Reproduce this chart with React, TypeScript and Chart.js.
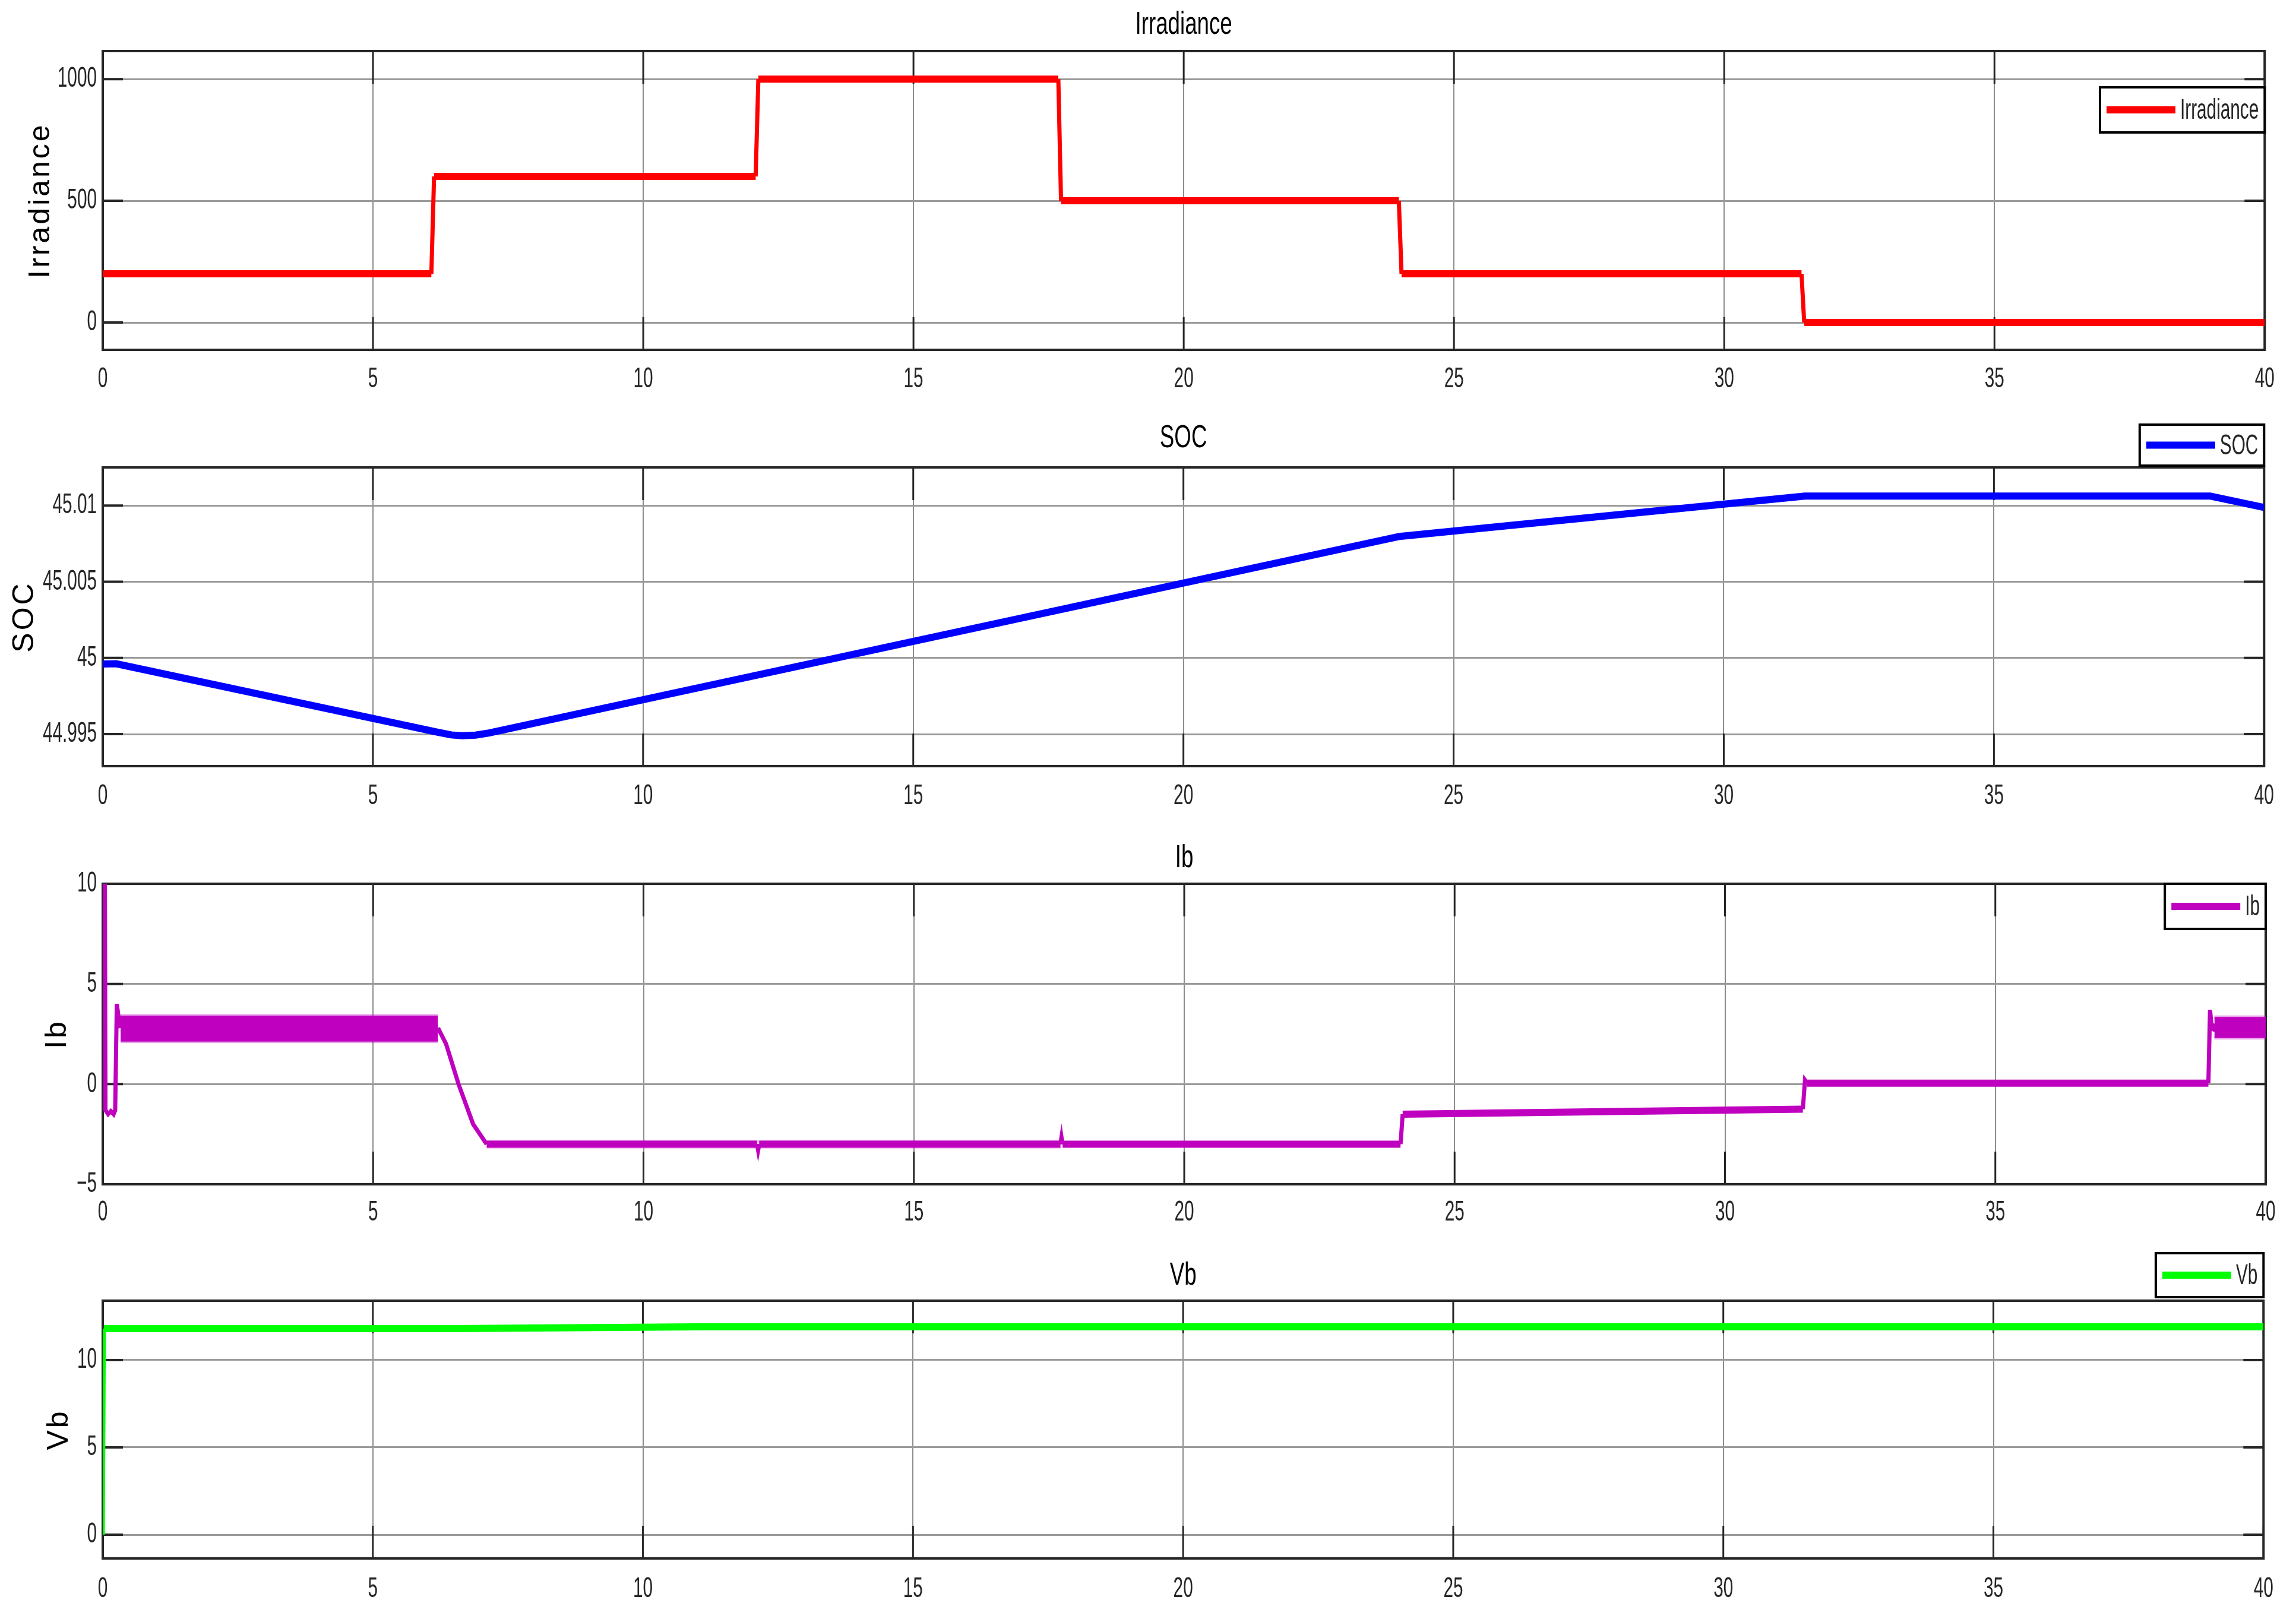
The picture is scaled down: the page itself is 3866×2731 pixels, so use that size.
import React, { useEffect, useRef } from "react";
import { Chart, registerables } from "chart.js";

Chart.register(...registerables);

// "CondMark" is a marker family name: text drawn with it is condensed horizontally
const NARROW = '"Liberation Sans", Arial, CondMark, sans-serif';
const WIDE = '"Liberation Sans", Arial, sans-serif';

// ---------------- data ----------------
const timeTicks = [0, 5, 10, 15, 20, 25, 30, 35, 40];
const timeTickLabels = ["0", "5", "10", "15", "20", "25", "30", "35", "40"];

// Irradiance (W/m2) vs time (s)
const irrTime = [0, 6.08, 6.13, 12.08, 12.13, 17.68, 17.73, 23.98, 24.03, 31.43, 31.48, 40];
const irrValue = [200, 200, 600, 600, 1000, 1000, 500, 500, 200, 200, 0, 0];
const irrTicks = [0, 500, 1000];
const irrTickLabels = ["0", "500", "1000"];

// SOC (%)
const socTime = [0, 0.25, 6.2, 6.45, 6.65, 6.9, 7.15, 24, 31.5, 39, 40];
const socValue = [44.9996, 44.99962, 44.99513, 44.99495, 44.9949, 44.99494, 44.99508, 45.00797, 45.01062, 45.01062, 45.00987];
const socTicks = [44.995, 45, 45.005, 45.01];
const socTickLabels = ["44.995", "45", "45.005", "45.01"];

// Battery current Ib (A)
const ibTime = [0, 0.04, 0.05, 0.1, 0.15, 0.2, 0.23, 0.26, 0.29, 0.33, 6.2, 6.35, 6.58, 6.85, 7.1, 12.1, 12.12, 12.14, 17.71, 17.73, 17.75, 24.0, 24.04, 31.44, 31.48, 31.52, 38.94, 38.97, 39.0, 39.05, 40];
const ibValue = [10, 10, -1.3, -1.5, -1.35, -1.5, -1.3, 4.0, 3.4, 2.8, 2.8, 2.0, 0, -2.0, -3.0, -3.0, -3.3, -3.0, -3.0, -2.65, -3.0, -3.0, -1.5, -1.25, 0.2, 0.05, 0.05, 3.7, 2.9, 2.8, 2.8];
// ripple envelopes of Ib
const ibRippleTime1 = [0.33, 6.2];
const ibRippleHigh1 = [3.42, 3.42];
const ibRippleLow1 = [2.12, 2.12];
const ibRippleTime2 = [7.1, 17.73];
const ibRippleHigh2 = [-2.78, -2.78];
const ibRippleLow2 = [-3.22, -3.22];
const ibRippleTime3 = [39.05, 40];
const ibRippleHigh3 = [3.35, 3.35];
const ibRippleLow3 = [2.3, 2.3];
const ibTicks = [-5, 0, 5, 10];
const ibTickLabels = ["\u22125", "0", "5", "10"];

// Battery voltage Vb (V)
const vbTime = [0, 0.02, 6.5, 11, 40];
const vbValue = [0, 11.8, 11.8, 11.9, 11.9];
const vbTicks = [0, 5, 10];
const vbTickLabels = ["0", "5", "10"];

// ---------------- styling ----------------
const W = 3866;
const H = 2731;
const PLOT_LEFT = 173;
const PLOT_RIGHT = 3815;
const RED = "#ff0000";
const BLUE = "#0000ff";
const MAGENTA = "#bf00bf";
const FRINGE = "rgba(191,0,191,0.35)";
const GREEN = "#00ff00";

const TICK_FONT = 48;
const TITLE_FONT = 54;
const YLABEL_FONT = 50;
const LEGEND_FONT = 48;
const TEXT_K = 0.62;
const TITLE_K = 0.68;

const pts = (t: number[], v: number[]) => t.map((x, i) => ({ x, y: v[i] }));

const segWidth = (thick: number, thin: number) => ({
  borderWidth: (ctx: any) =>
    Math.abs(ctx.p1.x - ctx.p0.x) < Math.abs(ctx.p1.y - ctx.p0.y) ? thin : thick,
});

const lineDs = (label: string, data: any[], color: string) => ({
  label,
  data,
  borderColor: color,
  backgroundColor: color,
  borderWidth: 12,
  segment: segWidth(12, 7),
  pointRadius: 0,
  tension: 0,
  fill: false,
});

const ribbon = (t: number[], hi: number[], lo: number[], fillColor: string, edge: string, edgeW: number) => [
  { label: "_hi", data: pts(t, hi), borderColor: edge, borderWidth: edgeW, pointRadius: 0, fill: false },
  { label: "_lo", data: pts(t, lo), borderColor: edge, borderWidth: edgeW, pointRadius: 0, fill: "-1", backgroundColor: fillColor },
];

type Panel = {
  key: string;
  top: number;
  height: number;
  title: string;
  yLabel: string;
  titleY: number;
  plotTop: number;
  plotBottom: number;
  xLabelY: number;
  yLabelX: number;
  yMin: number;
  yMax: number;
  yTicks: number[];
  yTickLabels: string[];
  legend: { label: string; color: string; offsetTop: number; height: number };
  datasets: () => any[];
};

const panels: Panel[] = [
  {
    key: "irr", top: 0, height: 700, title: "Irradiance", yLabel: "Irradiance",
    titleY: 42, plotTop: 86, plotBottom: 589, xLabelY: 639, yLabelX: 69,
    yMin: -112, yMax: 1115, yTicks: irrTicks, yTickLabels: irrTickLabels,
    legend: { label: "Irradiance", color: RED, offsetTop: 61, height: 76 },
    datasets: () => [lineDs("Irradiance", pts(irrTime, irrValue), RED)],
  },
  {
    key: "soc", top: 700, height: 700, title: "SOC", yLabel: "SOC",
    titleY: 38, plotTop: 87, plotBottom: 590, xLabelY: 641, yLabelX: 42,
    yMin: 44.9929, yMax: 45.0125, yTicks: socTicks, yTickLabels: socTickLabels,
    legend: { label: "SOC", color: BLUE, offsetTop: -72, height: 69 },
    datasets: () => [lineDs("SOC", pts(socTime, socValue), BLUE)],
  },
  {
    key: "ib", top: 1400, height: 700, title: "Ib", yLabel: "Ib",
    titleY: 45, plotTop: 88, plotBottom: 594, xLabelY: 642, yLabelX: 97,
    yMin: -5, yMax: 10, yTicks: ibTicks, yTickLabels: ibTickLabels,
    legend: { label: "Ib", color: MAGENTA, offsetTop: 0, height: 76 },
    datasets: () => [
      lineDs("Ib", pts(ibTime, ibValue), MAGENTA),
      ...ribbon(ibRippleTime1, ibRippleHigh1, ibRippleLow1, MAGENTA, FRINGE, 5),
      ...ribbon(ibRippleTime2, ibRippleHigh2, ibRippleLow2, "rgba(191,0,191,0.22)", "rgba(0,0,0,0)", 0),
      ...ribbon(ibRippleTime3, ibRippleHigh3, ibRippleLow3, MAGENTA, FRINGE, 5),
    ],
  },
  {
    key: "vb", top: 2100, height: 631, title: "Vb", yLabel: "Vb",
    titleY: 48, plotTop: 90, plotBottom: 524, xLabelY: 576, yLabelX: 100,
    yMin: -1.36, yMax: 13.4, yTicks: vbTicks, yTickLabels: vbTickLabels,
    legend: { label: "Vb", color: GREEN, offsetTop: -80, height: 74 },
    datasets: () => [lineDs("Vb", pts(vbTime, vbValue), GREEN)],
  },
];

const labelFor = (values: number[], labels: string[], v: number) => {
  const i = values.findIndex((x) => Math.abs(x - v) < 1e-9);
  return i >= 0 ? labels[i] : "";
};

// Condense the narrow text horizontally (MATLAB export look), space out the y labels.
const textStylePlugin = {
  id: "textStyle",
  beforeInit(chart: any) {
    const ctx: any = chart.ctx;
    if (ctx.__textPatched) return;
    const orig = ctx.fillText;
    ctx.fillText = function (text: any, x: number, y: number, maxWidth?: number) {
      const f: string = this.font || "";
      if (f.indexOf("CondMark") >= 0) {
        const m = /(\d+(?:\.\d+)?)px/.exec(f);
        const size = m ? parseFloat(m[1]) : 0;
        const k = size === TITLE_FONT ? TITLE_K : TEXT_K;
        let w = this.measureText(String(text)).width * k;
        if (maxWidth !== undefined && maxWidth !== null) w = Math.min(w, maxWidth);
        if (w <= 0) return;
        return orig.call(this, text, x, y, w);
      }
      const prev = this.letterSpacing;
      this.letterSpacing = "4px";
      const r = maxWidth !== undefined && maxWidth !== null ? orig.call(this, text, x, y, maxWidth) : orig.call(this, text, x, y);
      this.letterSpacing = prev;
      return r;
    };
    ctx.__textPatched = true;
  },
};

const framePlugin = {
  id: "matlabFrame",
  beforeDatasetsDraw(chart: any) {
    const { ctx, chartArea: a, scales } = chart;
    ctx.save();
    ctx.strokeStyle = "#262626";
    ctx.lineCap = "butt";
    ctx.lineWidth = 3;
    for (const t of scales.x.ticks) {
      const px = scales.x.getPixelForValue(t.value);
      ctx.beginPath();
      ctx.moveTo(px, a.bottom);
      ctx.lineTo(px, a.bottom - 55);
      ctx.moveTo(px, a.top);
      ctx.lineTo(px, a.top + 55);
      ctx.stroke();
    }
    ctx.lineWidth = 4;
    for (const t of scales.y.ticks) {
      const py = scales.y.getPixelForValue(t.value);
      ctx.beginPath();
      ctx.moveTo(a.left, py);
      ctx.lineTo(a.left + 34, py);
      ctx.moveTo(a.right, py);
      ctx.lineTo(a.right - 34, py);
      ctx.stroke();
    }
    ctx.lineWidth = 4;
    ctx.strokeRect(a.left, a.top, a.right - a.left, a.bottom - a.top);
    ctx.restore();
  },
};

const makeLegendPlugin = (spec: Panel["legend"]) => ({
  id: "boxLegend",
  afterDraw(chart: any) {
    const { ctx, chartArea: a } = chart;
    ctx.save();
    ctx.font = `${LEGEND_FONT}px ${NARROW}`;
    const tw = ctx.measureText(spec.label).width * TEXT_K;
    const w = 11 + 116 + 8 + tw + 10;
    const x1 = a.right;
    const x0 = x1 - w;
    const y0 = a.top + spec.offsetTop;
    const h = spec.height;
    ctx.fillStyle = "#ffffff";
    ctx.fillRect(x0, y0, w, h);
    ctx.strokeStyle = "#000000";
    ctx.lineWidth = 4;
    ctx.strokeRect(x0, y0, w, h);
    const cy = y0 + h / 2;
    ctx.strokeStyle = spec.color;
    ctx.lineWidth = 12;
    ctx.beginPath();
    ctx.moveTo(x0 + 11, cy);
    ctx.lineTo(x0 + 127, cy);
    ctx.stroke();
    ctx.fillStyle = "#262626";
    ctx.textAlign = "left";
    ctx.textBaseline = "middle";
    ctx.fillText(spec.label, x0 + 135, cy + 2);
    ctx.restore();
  },
});

function PanelChart({ p }: { p: Panel }) {
  const ref = useRef<HTMLCanvasElement | null>(null);
  useEffect(() => {
    if (!ref.current) return;
    const chart = new Chart(ref.current, {
      type: "line",
      data: { datasets: p.datasets() },
      options: {
        responsive: true,
        maintainAspectRatio: false,
        animation: false,
        devicePixelRatio: 1,
        events: [],
        layout: { padding: { left: 0, right: W - PLOT_RIGHT, top: 0, bottom: 0 } },
        plugins: {
          legend: { display: false },
          tooltip: { enabled: false },
          title: {
            display: true,
            text: p.title,
            fullSize: false,
            color: "#000000",
            font: { family: NARROW, size: TITLE_FONT, weight: "normal", lineHeight: 1 },
            padding: { top: p.titleY - TITLE_FONT / 2, bottom: p.plotTop - p.titleY - TITLE_FONT / 2 },
          },
        },
        scales: {
          x: {
            type: "linear",
            min: 0,
            max: 40,
            afterBuildTicks: (s: any) => {
              s.ticks = timeTicks.map((v) => ({ value: v }));
            },
            afterFit: (s: any) => {
              s.height = p.height - p.plotBottom;
            },
            grid: { color: "#8c8c8c", lineWidth: 2, drawTicks: false },
            border: { display: false },
            ticks: {
              autoSkip: false,
              maxRotation: 0,
              padding: p.xLabelY - p.plotBottom - TICK_FONT / 2,
              color: "#262626",
              font: { family: NARROW, size: TICK_FONT, lineHeight: 1 },
              callback: (v: any) => labelFor(timeTicks, timeTickLabels, Number(v)),
            },
          },
          y: {
            type: "linear",
            min: p.yMin,
            max: p.yMax,
            afterBuildTicks: (s: any) => {
              s.ticks = p.yTicks.map((v) => ({ value: v }));
            },
            afterFit: (s: any) => {
              s.width = PLOT_LEFT;
            },
            grid: { color: "#9a9a9a", lineWidth: 3, drawTicks: false },
            border: { display: false },
            ticks: {
              autoSkip: false,
              padding: 10,
              color: "#262626",
              font: { family: NARROW, size: TICK_FONT, lineHeight: 1 },
              callback: (v: any) => labelFor(p.yTicks, p.yTickLabels, Number(v)),
            },
            title: {
              display: true,
              text: p.yLabel,
              color: "#000000",
              font: { family: WIDE, size: YLABEL_FONT, lineHeight: 1 },
              padding: { top: p.yLabelX - YLABEL_FONT / 2, bottom: 0 },
            },
          },
        },
      } as any,
      plugins: [textStylePlugin, framePlugin, makeLegendPlugin(p.legend)],
    });
    return () => chart.destroy();
  }, [p]);
  return (
    <div style={{ position: "absolute", left: 0, top: p.top, width: W, height: p.height }}>
      <canvas ref={ref} />
    </div>
  );
}

export default function App() {
  return (
    <div style={{ position: "absolute", left: 0, top: 0, width: W, height: H, background: "#ffffff", overflow: "hidden" }}>
      {panels.map((p) => (
        <PanelChart key={p.key} p={p} />
      ))}
    </div>
  );
}
